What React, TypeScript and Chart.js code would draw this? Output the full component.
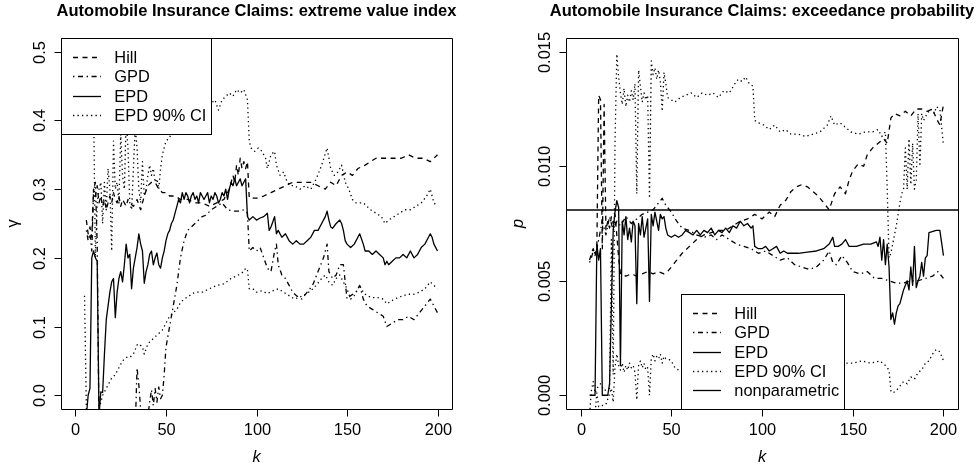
import React, { useEffect, useRef } from "react";
import { Chart, registerables } from "chart.js";

Chart.register(...registerables);

type Pt = [number, number];

const FONT_FAMILY = '"Liberation Sans", Arial, Helvetica, sans-serif';
const FONT_SIZE = 16.4;
const ROW = 19.2;

// ---------- axes ----------
const kRange = [-8, 208];
const kTicks = [0, 50, 100, 150, 200];
const kTickLabels = ["0", "50", "100", "150", "200"];

const gammaRange = [-0.02, 0.52];
const gammaTicks = [0, 0.1, 0.2, 0.3, 0.4, 0.5];
const gammaTickLabels = ["0.0", "0.1", "0.2", "0.3", "0.4", "0.5"];

const probRange = [-0.0006, 0.0156];
const probTicks = [0, 0.005, 0.01, 0.015];
const probTickLabels = ["0.000", "0.005", "0.010", "0.015"];

const seriesLabels = ["Hill", "GPD", "EPD", "EPD 90% CI"];
const nonparLabel = "nonparametric";

// ---------- left panel: extreme value index ----------
const gammaHill: Pt[] = [
  [6, 0.255], [7, 0.235], [8, 0.245], [9, 0.23], [10, 0.3], [11, 0.29], [12, 0.305], [13, 0.28], [14, 0.29],
  [15, 0.275], [16, 0.285], [17, 0.27], [18, 0.28], [19, 0.29], [20, 0.28], [21, 0.295], [22, 0.285], [23, 0.28],
  [24, 0.29], [25, 0.275], [26, 0.285], [27, 0.28], [28, 0.275], [29, 0.285], [30, 0.28], [32, 0.275], [34, 0.285],
  [36, 0.27], [38, 0.29], [40, 0.305], [42, 0.31], [44, 0.31], [46, 0.3], [48, 0.295], [50, 0.295], [52, 0.29],
  [55, 0.29], [58, 0.285], [62, 0.285], [66, 0.28], [70, 0.28], [74, 0.275], [78, 0.28], [82, 0.285], [85, 0.3],
  [87, 0.32], [88, 0.31], [89, 0.335], [90, 0.32], [91, 0.345], [92, 0.33], [93, 0.34], [94, 0.33], [95, 0.34],
  [96, 0.287], [100, 0.287], [104, 0.29], [108, 0.295], [112, 0.3], [116, 0.305], [120, 0.31], [125, 0.31],
  [130, 0.31], [134, 0.305], [138, 0.3], [141, 0.31], [144, 0.305], [147, 0.32], [150, 0.325], [153, 0.32],
  [156, 0.33], [160, 0.335], [163, 0.34], [166, 0.345], [170, 0.345], [175, 0.345], [180, 0.345], [184, 0.35],
  [188, 0.345], [192, 0.345], [196, 0.34], [200, 0.35],
];

const gammaGPD: Pt[] = [
  [6, 0.24], [7, 0.225], [8, 0.235], [9, 0.21], [10, 0.3], [11, 0.31], [12, 0.22], [13, -0.05], [20, -0.06],
  [33, -0.05], [34, 0.04], [35, 0.015], [36, -0.02], [40, -0.03], [41, -0.01], [42, 0.008], [43, -0.015],
  [44, 0.01], [45, -0.01], [46, 0.012], [47, -0.005], [48, 0.0], [49, 0.03], [50, 0.07], [52, 0.1], [54, 0.13],
  [56, 0.16], [58, 0.2], [60, 0.225], [62, 0.24], [64, 0.245], [66, 0.25], [68, 0.255], [70, 0.26], [72, 0.262],
  [75, 0.27], [78, 0.275], [81, 0.28], [84, 0.27], [87, 0.268], [90, 0.268], [93, 0.27], [95, 0.265], [96, 0.21],
  [98, 0.215], [100, 0.21], [102, 0.215], [104, 0.2], [106, 0.185], [108, 0.18], [110, 0.21], [111, 0.22],
  [112, 0.19], [114, 0.175], [116, 0.17], [118, 0.16], [120, 0.15], [122, 0.145], [125, 0.14], [128, 0.15],
  [131, 0.16], [134, 0.18], [137, 0.2], [139, 0.22], [140, 0.18], [142, 0.17], [144, 0.175], [146, 0.19],
  [148, 0.19], [150, 0.14], [152, 0.145], [155, 0.15], [157, 0.16], [159, 0.14], [161, 0.13], [164, 0.125],
  [167, 0.12], [170, 0.115], [172, 0.1], [175, 0.105], [178, 0.11], [181, 0.11], [184, 0.115], [187, 0.11],
  [190, 0.12], [193, 0.13], [196, 0.14], [198, 0.13], [200, 0.12],
];

const gammaEPD: Pt[] = [
  [5, -0.05], [6, -0.03], [7, 0.0], [8, 0.01], [9, 0.2], [10, 0.21], [11, 0.2], [12, 0.195], [13, -0.03],
  [14, 0.005], [15, 0.004], [16, 0.06], [17, 0.11], [18, 0.13], [19, 0.15], [20, 0.165], [21, 0.17], [22, 0.113],
  [23, 0.15], [24, 0.17], [25, 0.18], [26, 0.165], [27, 0.19], [28, 0.22], [29, 0.2], [30, 0.205], [31, 0.155],
  [32, 0.185], [33, 0.2], [34, 0.215], [35, 0.235], [36, 0.22], [37, 0.21], [38, 0.163], [39, 0.18], [40, 0.19],
  [41, 0.205], [42, 0.21], [43, 0.19], [44, 0.2], [45, 0.207], [46, 0.19], [47, 0.185], [48, 0.2], [49, 0.21],
  [50, 0.225], [51, 0.235], [52, 0.24], [53, 0.25], [54, 0.255], [55, 0.265], [56, 0.275], [57, 0.285],
  [58, 0.28], [59, 0.295], [60, 0.285], [61, 0.295], [62, 0.29], [63, 0.28], [64, 0.29], [65, 0.295],
  [66, 0.285], [67, 0.29], [68, 0.28], [69, 0.295], [70, 0.29], [71, 0.285], [72, 0.29], [73, 0.295], [74, 0.28],
  [75, 0.29], [76, 0.285], [77, 0.295], [78, 0.29], [79, 0.28], [80, 0.285], [81, 0.295], [82, 0.29], [83, 0.3],
  [84, 0.285], [85, 0.3], [86, 0.31], [87, 0.305], [88, 0.315], [89, 0.305], [90, 0.31], [91, 0.315],
  [92, 0.305], [93, 0.31], [94, 0.315], [95, 0.26], [96, 0.255], [98, 0.26], [100, 0.255], [102, 0.258],
  [104, 0.26], [106, 0.265], [107, 0.24], [108, 0.245], [110, 0.26], [111, 0.235], [112, 0.24], [114, 0.23],
  [116, 0.235], [118, 0.225], [120, 0.22], [122, 0.225], [124, 0.22], [126, 0.22], [128, 0.225], [130, 0.23],
  [132, 0.24], [134, 0.24], [136, 0.25], [138, 0.26], [139, 0.268], [140, 0.255], [141, 0.245], [142, 0.243],
  [144, 0.25], [146, 0.255], [147, 0.25], [148, 0.24], [149, 0.225], [150, 0.22], [152, 0.215], [154, 0.22],
  [156, 0.23], [157, 0.235], [159, 0.22], [160, 0.21], [162, 0.21], [164, 0.205], [166, 0.21], [168, 0.205],
  [170, 0.2], [171, 0.19], [172, 0.195], [173, 0.19], [175, 0.195], [177, 0.2], [179, 0.2], [181, 0.205],
  [183, 0.2], [185, 0.21], [187, 0.2], [189, 0.205], [191, 0.215], [193, 0.22], [195, 0.23], [196, 0.235],
  [197, 0.23], [198, 0.22], [200, 0.21],
];

const gammaCIUpper: Pt[] = [
  [5, 0.45], [6, 0.5], [7, 0.48], [8, 0.55], [9, 0.5], [10, 0.42], [11, 0.2], [12, 0.28], [13, 0.3], [14, 0.31],
  [15, 0.25], [16, 0.31], [17, 0.27], [18, 0.33], [19, 0.3], [20, 0.21], [21, 0.37], [22, 0.3], [23, 0.31],
  [24, 0.28], [25, 0.38], [26, 0.32], [27, 0.3], [28, 0.4], [29, 0.36], [30, 0.28], [31, 0.27], [32, 0.33],
  [33, 0.39], [34, 0.36], [35, 0.3], [36, 0.28], [37, 0.34], [38, 0.29], [39, 0.3], [40, 0.32], [41, 0.335],
  [42, 0.32], [43, 0.33], [44, 0.31], [45, 0.315], [46, 0.3], [47, 0.33], [48, 0.35], [49, 0.36], [50, 0.37],
  [52, 0.375], [54, 0.39], [56, 0.4], [58, 0.41], [60, 0.42], [63, 0.425], [66, 0.43], [69, 0.42], [72, 0.43],
  [75, 0.425], [77, 0.43], [79, 0.415], [81, 0.43], [83, 0.435], [85, 0.44], [87, 0.435], [89, 0.445],
  [91, 0.44], [93, 0.445], [95, 0.43], [96, 0.37], [97, 0.36], [99, 0.355], [101, 0.36], [103, 0.355],
  [105, 0.345], [106, 0.33], [108, 0.35], [110, 0.355], [111, 0.335], [113, 0.32], [115, 0.325], [117, 0.31],
  [119, 0.305], [121, 0.305], [124, 0.3], [127, 0.305], [130, 0.3], [133, 0.315], [136, 0.335], [139, 0.36],
  [141, 0.33], [143, 0.32], [145, 0.325], [147, 0.335], [149, 0.31], [151, 0.3], [153, 0.285], [155, 0.28],
  [157, 0.28], [159, 0.28], [161, 0.275], [163, 0.27], [166, 0.265], [169, 0.26], [171, 0.25], [173, 0.255],
  [176, 0.26], [179, 0.265], [182, 0.27], [185, 0.27], [188, 0.275], [191, 0.28], [194, 0.29], [196, 0.3],
  [198, 0.28], [200, 0.275],
];

const gammaCILower: Pt[] = [
  [5, 0.145], [6, -0.02], [8, -0.05], [10, -0.04], [12, -0.03], [14, -0.01], [15, 0.0], [16, 0.005],
  [18, 0.015], [20, 0.025], [22, 0.03], [24, 0.04], [26, 0.05], [28, 0.055], [30, 0.055], [32, 0.06],
  [34, 0.073], [35, 0.075], [37, 0.07], [38, 0.06], [40, 0.075], [42, 0.08], [44, 0.085], [46, 0.09],
  [48, 0.095], [50, 0.105], [52, 0.115], [54, 0.12], [56, 0.125], [58, 0.135], [60, 0.14], [63, 0.145],
  [66, 0.15], [70, 0.15], [74, 0.155], [78, 0.16], [82, 0.162], [86, 0.17], [90, 0.175], [93, 0.18],
  [94, 0.185], [95, 0.183], [96, 0.155], [98, 0.155], [100, 0.15], [103, 0.152], [106, 0.148], [109, 0.152],
  [112, 0.155], [115, 0.15], [118, 0.145], [121, 0.14], [124, 0.143], [127, 0.147], [130, 0.152], [133, 0.16],
  [136, 0.17], [138, 0.175], [140, 0.165], [142, 0.16], [144, 0.17], [146, 0.175], [148, 0.165], [150, 0.155],
  [152, 0.14], [154, 0.145], [156, 0.155], [157, 0.16], [159, 0.15], [161, 0.145], [164, 0.142], [167, 0.142],
  [170, 0.14], [172, 0.133], [175, 0.138], [178, 0.142], [181, 0.145], [184, 0.147], [187, 0.147], [190, 0.15],
  [193, 0.155], [196, 0.165], [198, 0.16], [200, 0.155],
];

// ---------- right panel: exceedance probability ----------
const probHill: Pt[] = [
  [5, 0.0059], [6, 0.0062], [7, 0.0064], [8, 0.0061], [9, 0.0065], [10, 0.0131], [11, 0.0129], [12, 0.0064],
  [13, 0.0127], [14, 0.0072], [15, 0.0076], [16, 0.0073], [17, 0.0078], [18, 0.0075], [19, 0.0079], [20, 0.007],
  [21, 0.006], [22, 0.0053], [25, 0.0052], [28, 0.0053], [31, 0.0052], [34, 0.0053], [37, 0.0054], [40, 0.0053],
  [43, 0.0054], [46, 0.0053], [48, 0.0054], [52, 0.0058], [56, 0.0062], [60, 0.0065], [64, 0.0068], [68, 0.007],
  [72, 0.0071], [76, 0.0072], [80, 0.0072], [84, 0.0074], [88, 0.0076], [92, 0.0077], [96, 0.0079],
  [100, 0.0077], [104, 0.008], [107, 0.0078], [110, 0.0083], [113, 0.0085], [116, 0.0089], [119, 0.0091],
  [122, 0.0092], [125, 0.0091], [128, 0.0089], [131, 0.0087], [134, 0.0084], [137, 0.0081], [140, 0.0088],
  [143, 0.0091], [146, 0.0088], [148, 0.0094], [150, 0.0098], [153, 0.0101], [156, 0.01], [158, 0.0105],
  [161, 0.0108], [164, 0.011], [167, 0.0112], [169, 0.011], [171, 0.0121], [173, 0.0123], [176, 0.0122],
  [179, 0.0124], [182, 0.0122], [185, 0.0125], [188, 0.0125], [191, 0.0124], [194, 0.0125], [196, 0.0121],
  [198, 0.0118], [200, 0.0127],
];

const probGPD: Pt[] = [
  [5, 0.0058], [6, 0.006], [7, 0.0063], [8, 0.0062], [9, 0.0064], [10, 0.0068], [12, 0.0076], [14, 0.007],
  [16, 0.0078], [18, 0.0072], [20, 0.0076], [22, 0.0074], [25, 0.0078], [28, 0.0075], [31, 0.0077],
  [34, 0.0079], [37, 0.008], [40, 0.0081], [43, 0.0084], [45, 0.0086], [47, 0.0083], [50, 0.008], [53, 0.0076],
  [56, 0.0073], [60, 0.0072], [64, 0.007], [68, 0.0069], [72, 0.007], [75, 0.0068], [78, 0.007], [82, 0.0068],
  [86, 0.0066], [90, 0.0065], [94, 0.0064], [98, 0.0062], [102, 0.0063], [106, 0.0061], [110, 0.0059],
  [114, 0.006], [118, 0.0057], [122, 0.0056], [126, 0.0055], [130, 0.0056], [134, 0.0059], [137, 0.0063],
  [139, 0.0058], [141, 0.0057], [144, 0.0061], [147, 0.0058], [150, 0.0054], [154, 0.0053], [158, 0.0054],
  [162, 0.0051], [166, 0.0051], [170, 0.005], [174, 0.0049], [178, 0.0049], [182, 0.005], [186, 0.005],
  [190, 0.0051], [194, 0.0052], [197, 0.0054], [200, 0.0051],
];

const probEPD: Pt[] = [
  [5, 0], [8, 0], [9, 0.0066], [10, 0.0059], [11, 0.0064], [12, 0], [15, 0], [16, 0.0005], [18, 0.0072],
  [19, 0.008], [20, 0.0085], [21, 0.0082], [22, 0.0013], [23, 0.0076], [24, 0.007], [25, 0.0078], [26, 0.0068],
  [27, 0.0073], [28, 0.0067], [29, 0.0076], [30, 0.0074], [31, 0.004], [32, 0.0075], [33, 0.007], [34, 0.0078],
  [35, 0.0069], [36, 0.0073], [37, 0.0077], [38, 0.0041], [39, 0.0079], [40, 0.0074], [41, 0.008], [42, 0.0076],
  [43, 0.0072], [44, 0.0079], [45, 0.0077], [46, 0.0078], [47, 0.0073], [48, 0.007], [50, 0.0069], [52, 0.007],
  [54, 0.0069], [56, 0.007], [58, 0.0072], [60, 0.0071], [62, 0.007], [64, 0.0072], [66, 0.007], [68, 0.0072],
  [70, 0.0071], [72, 0.0073], [74, 0.007], [76, 0.0072], [78, 0.0071], [80, 0.0073], [82, 0.0071], [84, 0.0074],
  [86, 0.0073], [88, 0.0076], [90, 0.0074], [92, 0.0075], [94, 0.0073], [95, 0.0074], [96, 0.0065], [98, 0.0064],
  [100, 0.0064], [102, 0.0065], [104, 0.0063], [106, 0.0064], [108, 0.0065], [110, 0.0062], [112, 0.0063],
  [114, 0.0062], [116, 0.0062], [120, 0.0062], [125, 0.00625], [130, 0.0063], [134, 0.0064], [137, 0.0066],
  [139, 0.0069], [140, 0.0065], [142, 0.0065], [144, 0.0066], [146, 0.0068], [148, 0.0065], [152, 0.0065],
  [156, 0.0066], [160, 0.0066], [163, 0.0067], [164, 0.0065], [165, 0.0069], [166, 0.0059], [167, 0.0068],
  [168, 0.0057], [169, 0.0066], [170, 0.0056], [171, 0.0033], [172, 0.0036], [173, 0.0031], [174, 0.0036],
  [175, 0.0039], [176, 0.004], [177, 0.0043], [178, 0.0046], [179, 0.0048], [180, 0.005], [181, 0.0046],
  [182, 0.0056], [183, 0.0048], [184, 0.0065], [185, 0.0047], [186, 0.005], [187, 0.0052], [188, 0.0058],
  [189, 0.0052], [190, 0.006], [191, 0.0061], [192, 0.0071], [196, 0.0072], [198, 0.0072], [200, 0.0061],
];

const probCIUpper: Pt[] = [
  [5, -0.0008], [6, 0.0002], [7, 0.0006], [8, 0.0001], [9, 0.0003], [11, 0.0005], [13, 0.0002], [16, 0.0003],
  [17, 0.0068], [18, 0.0009], [19, 0.011], [20, 0.0149], [21, 0.0139], [22, 0.0132], [23, 0.0127], [24, 0.0134],
  [25, 0.0126], [26, 0.0131], [27, 0.0128], [28, 0.0133], [29, 0.0129], [30, 0.0136], [31, 0.0088], [32, 0.0142],
  [33, 0.0135], [34, 0.0128], [35, 0.0132], [36, 0.0129], [37, 0.0131], [38, 0.0086], [39, 0.0146], [40, 0.014],
  [41, 0.0143], [42, 0.0138], [43, 0.0142], [44, 0.0137], [45, 0.0124], [46, 0.0141], [47, 0.0136], [48, 0.013],
  [50, 0.0129], [52, 0.0128], [55, 0.013], [58, 0.0131], [61, 0.0132], [64, 0.013], [67, 0.0132], [70, 0.0131],
  [73, 0.0132], [76, 0.013], [79, 0.0133], [82, 0.0132], [85, 0.0136], [87, 0.0138], [89, 0.0137], [91, 0.0139],
  [93, 0.0136], [95, 0.0135], [96, 0.012], [98, 0.0119], [101, 0.0118], [104, 0.0116], [107, 0.0118],
  [110, 0.0115], [113, 0.0116], [116, 0.0114], [120, 0.0114], [124, 0.0113], [128, 0.0114], [132, 0.0115],
  [136, 0.0118], [138, 0.0122], [140, 0.0118], [143, 0.0119], [146, 0.0117], [149, 0.0115], [153, 0.0114],
  [157, 0.0115], [161, 0.0115], [164, 0.0116], [166, 0.0113], [168, 0.0115], [169, 0.009], [170, 0.006],
  [171, 0.0062], [172, 0.0066], [174, 0.0074], [176, 0.0084], [177, 0.0088], [178, 0.009], [179, 0.0108],
  [180, 0.009], [181, 0.0112], [182, 0.0092], [183, 0.011], [184, 0.009], [185, 0.0094], [186, 0.0123],
  [187, 0.01], [188, 0.0123], [189, 0.012], [191, 0.0123], [193, 0.0125], [195, 0.0123], [196, 0.0126],
  [198, 0.0125], [200, 0.0109],
];

const probCILower: Pt[] = [
  [5, -0.001], [8, -0.0008], [9, 0.0001], [10, -0.0005], [14, -0.0004], [17, 0.0003], [18, -0.0003],
  [19, 0.0012], [20, 0.0018], [21, 0.0013], [22, 0.0011], [23, 0.0014], [24, 0.001], [25, 0.0013], [26, 0.0011],
  [27, 0.0014], [28, 0.0012], [29, 0.0013], [30, 0.001], [31, -0.0002], [32, 0.0013], [33, 0.0015], [34, 0.0012],
  [35, 0.0014], [36, 0.0011], [37, 0.0012], [38, 0.0], [39, 0.0016], [40, 0.0018], [41, 0.0015], [42, 0.0017],
  [43, 0.0016], [44, 0.0018], [45, 0.0014], [46, 0.0017], [47, 0.0016], [48, 0.0016], [50, 0.0015], [52, 0.0012],
  [54, 0.0011], [56, 0.0012], [60, 0.0011], [70, 0.0012], [80, 0.0011], [90, 0.0012], [100, 0.0012],
  [110, 0.0013], [120, 0.0013], [130, 0.0013], [140, 0.0014], [146, 0.0014], [150, 0.0014], [155, 0.0015],
  [160, 0.0014], [165, 0.0015], [168, 0.0013], [170, 0.0011], [171, 0.0002], [172, 0.0001], [174, 0.0002],
  [176, 0.0004], [178, 0.0006], [180, 0.0005], [182, 0.0008], [184, 0.0007], [186, 0.001], [188, 0.0011],
  [190, 0.0014], [192, 0.0015], [194, 0.0018], [196, 0.002], [198, 0.0019], [200, 0.0015],
];

const probNonparametric = 0.00809;

// ---------- styles ----------
const LINE_WIDTH = 1.3;
const DASH_HILL = [5, 4.5];
const DASH_GPD = [1.4, 3.6, 5, 3.6];
const DASH_SOLID: number[] = [];
const DASH_CI = [1.3, 3.2];

interface SeriesSpec {
  label: string;
  points: Pt[];
  dash: number[];
  inLegend: boolean;
}

interface PanelSpec {
  title: string;
  yLabel: string;
  yLabelItalic: boolean;
  yRange: number[];
  yTicks: number[];
  yTickLabels: string[];
  series: SeriesSpec[];
  legendPos: "topleft" | "bottom";
  padding: { left: number; right: number; top: number; bottom: number };
}

function makeDecor(spec: PanelSpec) {
  return {
    id: "rDecor",
    afterDraw(chart: any) {
      const ctx: CanvasRenderingContext2D = chart.ctx;
      const { left, right, top, bottom } = chart.chartArea;
      const xs = chart.scales.x;
      const ys = chart.scales.y;
      const font = `${FONT_SIZE}px ${FONT_FAMILY}`;
      ctx.save();
      ctx.lineWidth = 1;
      ctx.strokeStyle = "#000";
      ctx.fillStyle = "#000";
      ctx.setLineDash([]);

      // legend
      const items = spec.series.filter((s) => s.inLegend);
      ctx.font = font;
      const maxW = Math.max(...items.map((s) => ctx.measureText(s.label).width));
      const lw = Math.round(53.3 + maxW + 5);
      const lh = Math.round(ROW * (items.length + 1));
      let lx: number;
      let ly: number;
      if (spec.legendPos === "topleft") {
        lx = left;
        ly = top;
      } else {
        lx = Math.round((left + right) / 2 - lw / 2);
        ly = bottom - lh;
      }
      ctx.fillStyle = "#fff";
      ctx.fillRect(lx, ly, lw, lh);
      ctx.fillStyle = "#000";
      ctx.strokeRect(Math.round(lx) + 0.5, Math.round(ly) + 0.5, lw, lh);
      items.forEach((item, i) => {
        const cy = Math.round(ly + ROW * (i + 1));
        ctx.lineWidth = LINE_WIDTH;
        ctx.setLineDash(item.dash);
        ctx.beginPath();
        ctx.moveTo(lx + 12, cy + 0.5);
        ctx.lineTo(lx + 40, cy + 0.5);
        ctx.stroke();
        ctx.setLineDash([]);
        ctx.lineWidth = 1;
        ctx.textAlign = "left";
        ctx.textBaseline = "middle";
        ctx.fillText(item.label, lx + 53.3, cy + 1);
      });

      // box
      const L = Math.round(left) + 0.5;
      const R = Math.round(right) + 0.5;
      const T = Math.round(top) + 0.5;
      const B = Math.round(bottom) + 0.5;
      ctx.beginPath();
      ctx.rect(L, T, R - L, B - T);
      ctx.stroke();

      // x ticks
      ctx.font = font;
      ctx.textAlign = "center";
      ctx.textBaseline = "alphabetic";
      kTicks.forEach((t, i) => {
        const px = Math.round(xs.getPixelForValue(t)) + 0.5;
        ctx.beginPath();
        ctx.moveTo(px, B);
        ctx.lineTo(px, B + 7);
        ctx.stroke();
        ctx.fillText(kTickLabels[i], px, bottom + 25.5);
      });

      // y ticks
      spec.yTicks.forEach((t, i) => {
        const py = Math.round(ys.getPixelForValue(t)) + 0.5;
        ctx.beginPath();
        ctx.moveTo(L - 7, py);
        ctx.lineTo(L, py);
        ctx.stroke();
        ctx.save();
        ctx.translate(left - 16, py);
        ctx.rotate(-Math.PI / 2);
        ctx.textAlign = "center";
        ctx.textBaseline = "alphabetic";
        ctx.fillText(spec.yTickLabels[i], 0, 0);
        ctx.restore();
      });

      // axis labels
      ctx.font = `italic ${FONT_SIZE}px ${FONT_FAMILY}`;
      ctx.textAlign = "center";
      ctx.textBaseline = "alphabetic";
      ctx.fillText("k", (left + right) / 2, bottom + 53);

      ctx.save();
      ctx.font = `${spec.yLabelItalic ? "italic " : ""}${FONT_SIZE}px ${FONT_FAMILY}`;
      ctx.translate(left - 43.5, (top + bottom) / 2);
      ctx.rotate(-Math.PI / 2);
      ctx.textAlign = "center";
      ctx.fillText(spec.yLabel, 0, 0);
      ctx.restore();

      // title
      ctx.font = `bold 16.5px ${FONT_FAMILY}`;
      ctx.textAlign = "center";
      ctx.textBaseline = "alphabetic";
      ctx.fillText(spec.title, (left + right) / 2, 16);

      ctx.restore();
    },
  };
}

function Panel({ spec, x, width }: { spec: PanelSpec; x: number; width: number }) {
  const ref = useRef<HTMLCanvasElement>(null);
  useEffect(() => {
    const canvas = ref.current;
    if (!canvas) return;
    const datasets = spec.series.map((s) => ({
      label: s.label,
      data: s.points.map(([k, v]) => ({ x: k, y: v })),
      borderColor: "#000",
      borderWidth: LINE_WIDTH,
      borderDash: s.dash,
      borderCapStyle: "butt" as const,
      borderJoinStyle: "round" as const,
      pointRadius: 0,
      pointHoverRadius: 0,
      fill: false,
      tension: 0,
    }));
    const chart = new Chart(canvas, {
      type: "line",
      data: { datasets },
      options: {
        animation: false,
        responsive: false,
        devicePixelRatio: 1,
        events: [],
        layout: { padding: spec.padding },
        scales: {
          x: { type: "linear", min: kRange[0], max: kRange[1], display: false },
          y: { type: "linear", min: spec.yRange[0], max: spec.yRange[1], display: false },
        },
        plugins: { legend: { display: false }, tooltip: { enabled: false } },
      },
      plugins: [makeDecor(spec)],
    } as any);
    return () => chart.destroy();
  }, [spec]);
  return (
    <canvas
      ref={ref}
      width={width}
      height={467}
      style={{ position: "absolute", left: x, top: 0, width, height: 467 }}
    />
  );
}

const leftSpec: PanelSpec = {
  title: "Automobile Insurance Claims: extreme value index",
  yLabel: "γ",
  yLabelItalic: false,
  yRange: gammaRange,
  yTicks: gammaTicks,
  yTickLabels: gammaTickLabels,
  legendPos: "topleft",
  padding: { left: 61, right: 36, top: 38, bottom: 58 },
  series: [
    { label: seriesLabels[0], points: gammaHill, dash: DASH_HILL, inLegend: true },
    { label: seriesLabels[1], points: gammaGPD, dash: DASH_GPD, inLegend: true },
    { label: seriesLabels[2], points: gammaEPD, dash: DASH_SOLID, inLegend: true },
    { label: seriesLabels[3], points: gammaCIUpper, dash: DASH_CI, inLegend: true },
    { label: seriesLabels[3] + " lower", points: gammaCILower, dash: DASH_CI, inLegend: false },
  ],
};

const rightSpec: PanelSpec = {
  title: "Automobile Insurance Claims: exceedance probability",
  yLabel: "p",
  yLabelItalic: true,
  yRange: probRange,
  yTicks: probTicks,
  yTickLabels: probTickLabels,
  legendPos: "bottom",
  padding: { left: 78, right: 19, top: 38, bottom: 58 },
  series: [
    { label: seriesLabels[0], points: probHill, dash: DASH_HILL, inLegend: true },
    { label: seriesLabels[1], points: probGPD, dash: DASH_GPD, inLegend: true },
    { label: seriesLabels[2], points: probEPD, dash: DASH_SOLID, inLegend: true },
    { label: seriesLabels[3], points: probCIUpper, dash: DASH_CI, inLegend: true },
    { label: seriesLabels[3] + " lower", points: probCILower, dash: DASH_CI, inLegend: false },
    {
      label: nonparLabel,
      points: [
        [kRange[0], probNonparametric],
        [kRange[1], probNonparametric],
      ],
      dash: DASH_SOLID,
      inLegend: true,
    },
  ],
};

export default function App() {
  return (
    <div
      style={{
        position: "absolute",
        left: 0,
        top: 0,
        width: 977,
        height: 467,
        background: "#fff",
        overflow: "hidden",
      }}
    >
      <Panel spec={leftSpec} x={0} width={488} />
      <Panel spec={rightSpec} x={488} width={489} />
    </div>
  );
}
